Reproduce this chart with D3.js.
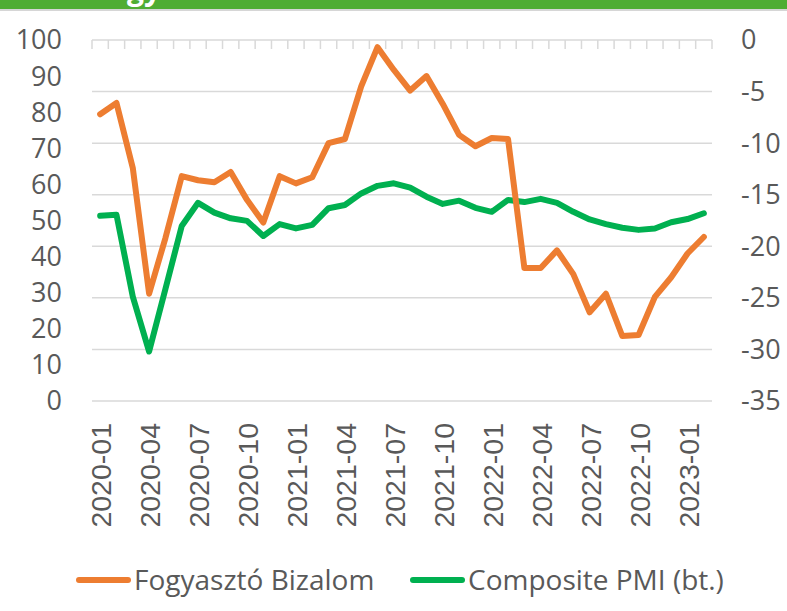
<!DOCTYPE html>
<html>
<head>
<meta charset="utf-8">
<script src="https://cdn.jsdelivr.net/npm/d3@7"></script>
<style>
  body { margin: 0; background: #fff; }
  svg { display: block; }
</style>
</head>
<body>
<div id="chart"></div>
<script>
// months on the category axis
const months = [
  "2020-01","2020-02","2020-03","2020-04","2020-05","2020-06","2020-07","2020-08","2020-09","2020-10","2020-11","2020-12",
  "2021-01","2021-02","2021-03","2021-04","2021-05","2021-06","2021-07","2021-08","2021-09","2021-10","2021-11","2021-12",
  "2022-01","2022-02","2022-03","2022-04","2022-05","2022-06","2022-07","2022-08","2022-09","2022-10","2022-11","2022-12",
  "2023-01","2023-02"
];
// Fogyasztó Bizalom (right axis)
const bizalom = [
  -7.2, -6.1, -12.4, -24.6, -19.2, -13.2, -13.6, -13.8, -12.8, -15.5, -17.7, -13.2,
  -13.9, -13.3, -10.0, -9.6, -4.5, -0.7, -2.9, -4.9, -3.5, -6.2, -9.2, -10.3,
  -9.5, -9.6, -22.1, -22.1, -20.4, -22.7, -26.4, -24.6, -28.7, -28.6, -24.9, -23.0,
  -20.7, -19.1
];
// Composite PMI (left axis, "bt.")
const pmi = [
  51.3, 51.6, 28.9, 13.7, 31.0, 48.5, 54.9, 52.2, 50.6, 49.9, 45.7, 49.0,
  47.8, 48.8, 53.4, 54.3, 57.5, 59.6, 60.3, 59.1, 56.6, 54.6, 55.5, 53.5,
  52.4, 55.7, 55.1, 56.0, 54.9, 52.4, 50.3, 49.0, 48.0, 47.4, 47.8, 49.5,
  50.4, 52.0
];
const leftTicks = [0, 10, 20, 30, 40, 50, 60, 70, 80, 90, 100];
const rightTicks = [0, -5, -10, -15, -20, -25, -30, -35];
const labelEvery = 3;

const width = 787, height = 611;
const plot = { left: 92, right: 712, top: 40, bottom: 401 };

const svg = d3.select("#chart")
  .append("svg")
  .attr("width", width)
  .attr("height", height);

// header strip at the top (title is cut off, only "gy" tails show)
svg.append("rect")
  .attr("x", 0).attr("y", 0)
  .attr("width", width).attr("height", 9)
  .attr("fill", "#4fad33");
svg.append("rect")
  .attr("x", 0).attr("y", 9)
  .attr("width", width).attr("height", 2)
  .attr("fill", "#d6d6d6");
svg.append("text")
  .attr("x", 127).attr("y", 0)
  .attr("font-family", "Open Sans, sans-serif")
  .attr("font-weight", "bold")
  .attr("font-size", 30)
  .attr("fill", "#fff")
  .text("gy");

const x = d3.scaleBand().domain(months).range([plot.left, plot.right]);
const yL = d3.scaleLinear().domain([0, 100]).range([plot.bottom, plot.top]);
const yR = d3.scaleLinear().domain([-35, 0]).range([plot.bottom, plot.top]);
const cx = d => x(d) + x.bandwidth() / 2;

// gridlines (right axis)
svg.append("g")
  .selectAll("line")
  .data(rightTicks.filter(t => t !== 0))
  .enter().append("line")
  .attr("x1", plot.left).attr("x2", plot.right)
  .attr("y1", d => yR(d)).attr("y2", d => yR(d))
  .attr("stroke", "#d9d9d9")
  .attr("stroke-width", 1.5);

// category axis across the top with tick marks between categories
const xAxis = svg.append("g");
xAxis.append("line")
  .attr("x1", plot.left).attr("x2", plot.right)
  .attr("y1", plot.top).attr("y2", plot.top)
  .attr("stroke", "#d9d9d9")
  .attr("stroke-width", 1.5);
xAxis.selectAll(".tk")
  .data(months.concat(["end"]))
  .enter().append("line")
  .attr("class", "tk")
  .attr("x1", (d, i) => i < months.length ? x(d) : plot.right)
  .attr("x2", (d, i) => i < months.length ? x(d) : plot.right)
  .attr("y1", plot.top).attr("y2", plot.top + 9)
  .attr("stroke", "#d9d9d9")
  .attr("stroke-width", 1.5);

// x labels at the bottom, rotated
svg.append("g")
  .selectAll("text")
  .data(months.filter((d, i) => i % labelEvery === 0))
  .enter().append("text")
  .attr("transform", d => `translate(${cx(d) + 1},423) rotate(-90)`)
  .attr("text-anchor", "end")
  .attr("dy", "0.36em")
  .attr("font-family", "Liberation Sans, Arial, sans-serif")
  .attr("font-size", 28.5)
  .attr("fill", "#595959")
  .text(d => d);

// left axis labels
svg.append("g")
  .selectAll("text")
  .data(leftTicks)
  .enter().append("text")
  .attr("x", 62)
  .attr("y", d => yL(d))
  .attr("dy", "0.35em")
  .attr("text-anchor", "end")
  .attr("font-family", "Open Sans, sans-serif")
  .attr("font-size", 27)
  .attr("fill", "#595959")
  .text(d => d);

// right axis labels
svg.append("g")
  .selectAll("text")
  .data(rightTicks)
  .enter().append("text")
  .attr("x", 741)
  .attr("y", d => yR(d))
  .attr("dy", "0.35em")
  .attr("font-family", "Open Sans, sans-serif")
  .attr("font-size", 27)
  .attr("fill", "#595959")
  .text(d => d);

// lines
const lineL = d3.line().x((d, i) => cx(months[i])).y(d => yL(d));
const lineR = d3.line().x((d, i) => cx(months[i])).y(d => yR(d));

svg.append("path")
  .datum(pmi)
  .attr("d", lineL)
  .attr("fill", "none")
  .attr("stroke", "#00b050")
  .attr("stroke-width", 6)
  .attr("stroke-linejoin", "round")
  .attr("stroke-linecap", "round");

svg.append("path")
  .datum(bizalom)
  .attr("d", lineR)
  .attr("fill", "none")
  .attr("stroke", "#ed7d31")
  .attr("stroke-width", 6)
  .attr("stroke-linejoin", "round")
  .attr("stroke-linecap", "round");

// legend
const legendItems = [
  { name: "Fogyasztó Bizalom", color: "#ed7d31", x: 76 },
  { name: "Composite PMI (bt.)", color: "#00b050", x: 410 }
];
const legend = svg.append("g");
legendItems.forEach(item => {
  legend.append("line")
    .attr("x1", item.x + 3).attr("x2", item.x + 52)
    .attr("y1", 580).attr("y2", 580)
    .attr("stroke", item.color)
    .attr("stroke-width", 6)
    .attr("stroke-linecap", "round");
  legend.append("text")
    .attr("x", item.x + 58)
    .attr("y", 580)
    .attr("dy", "0.35em")
    .attr("font-family", "Open Sans, sans-serif")
    .attr("font-size", 28)
    .attr("fill", "#595959")
    .text(item.name);
});
</script>
</body>
</html>
